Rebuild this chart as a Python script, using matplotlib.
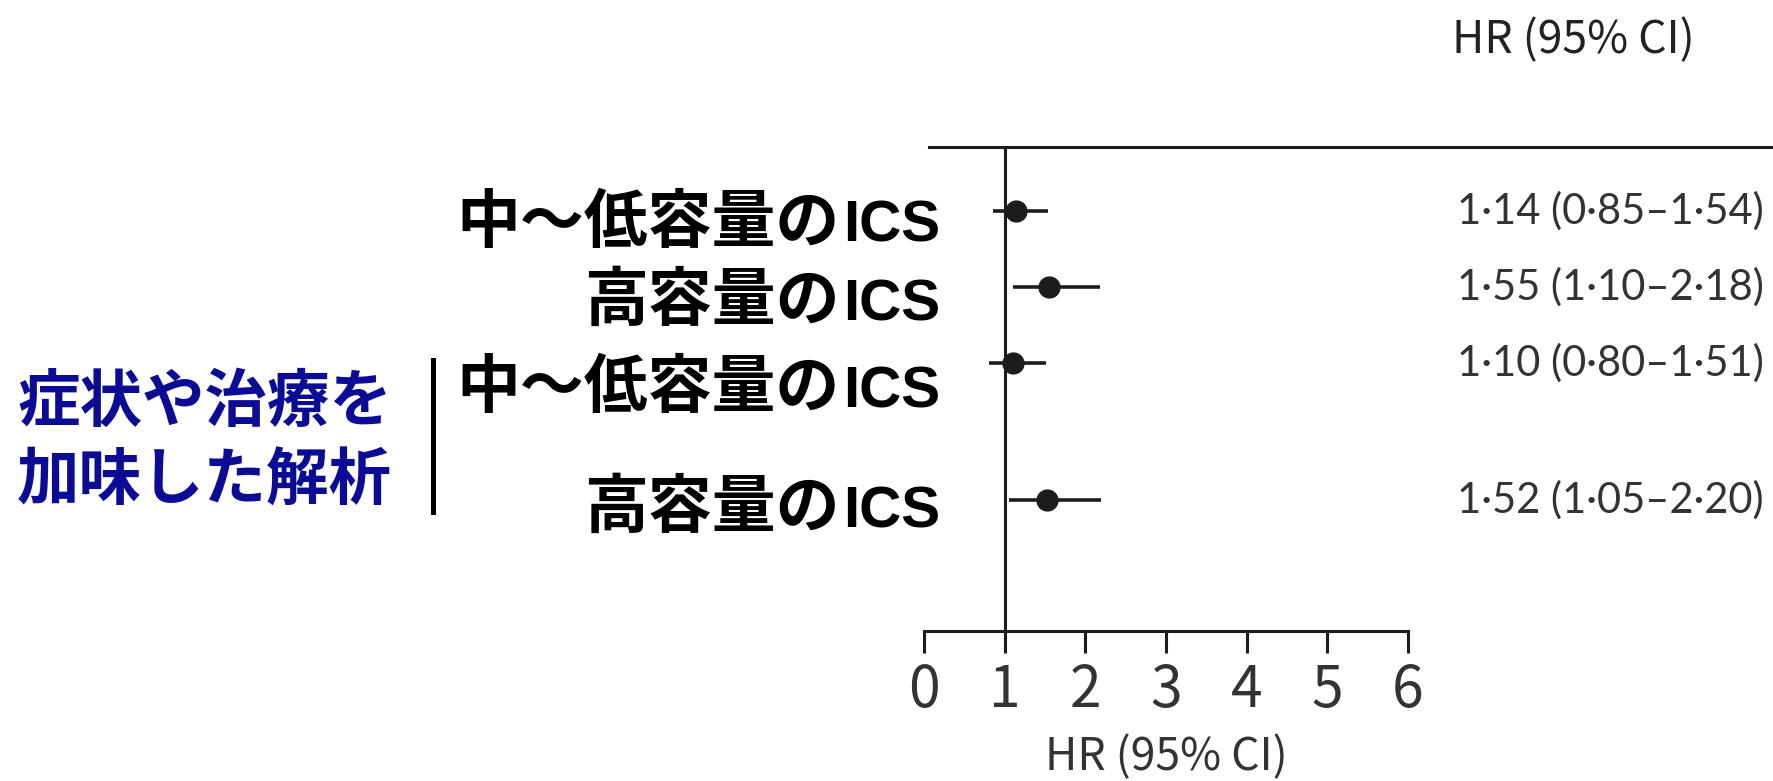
import matplotlib.pyplot as plt
from matplotlib.lines import Line2D
from matplotlib.transforms import blended_transform_factory

# hazard ratios with 95% CI, one row per ICS dose group
dose_labels = ["中～低容量の", "高容量の", "中～低容量の", "高容量の"]
drug_label = "ICS"
hr = [1.14, 1.55, 1.10, 1.52]
ci_low = [0.85, 1.10, 0.80, 1.05]
ci_high = [1.54, 2.18, 1.51, 2.20]
row_pos = [0, 1, 2, 3.8]
x_ticks = [0, 1, 2, 3, 4, 5, 6]
axis_title = "HR (95% CI)"
group_lines = ["症状や治療を", "加味した解析"]

W, H = 1773, 781
INK = "#1c1c1c"
GREY = "#333333"
NUM_FONT = ["Noto Sans CJK JP", "DejaVu Sans"]
CI_FONT = ["Lato", "Open Sans", "DejaVu Sans"]
JP_FONT = ["Noto Sans CJK JP", "DejaVu Sans"]
BLUE = "#0b0b96"


def fx(x):
    return x / W


def fy(y):
    return 1 - y / H


fig = plt.figure(figsize=(W / 100, H / 100), dpi=100)

ax = fig.add_axes([fx(924), fy(631), fx(1408) - fx(924), fy(147) - fy(631)])
ax.set_xlim(0, 6)
ax.set_ylim(5.52, -0.84)
for side in ("left", "top", "right"):
    ax.spines[side].set_visible(False)
ax.spines["bottom"].set_linewidth(2.2)
ax.spines["bottom"].set_color(INK)
ax.set_yticks([])
ax.set_xticks(x_ticks)
ax.set_xticklabels([str(t) for t in x_ticks], family=NUM_FONT, fontsize=41,
                   color=GREY)
ax.tick_params(axis="x", length=16, width=2.2, color=INK, pad=6)

# line of no effect
ax.axvline(1, color=INK, lw=2.2, zorder=1)

ax.hlines(row_pos, ci_low, ci_high, color=INK, lw=2.6, zorder=2)
ax.plot(hr, row_pos, "o", ms=15, color=INK, zorder=3)

ax.set_xlabel(axis_title, family=NUM_FONT, fontsize=32, color=GREY)
ax.xaxis.label.set_va("center")
ax.xaxis.set_label_coords(0.5, -126 / 484)

# HR text column on the right
tr = blended_transform_factory(fig.transFigure, ax.transData)
for y, v, lo, hi in zip(row_pos, hr, ci_low, ci_high):
    s = f"{v:.2f} ({lo:.2f}–{hi:.2f})".replace(".", "·")
    ax.text(fx(1764), y, s, transform=tr, ha="right", va="center",
            family=CI_FONT, fontsize=30, color=GREY)

fig.text(fx(1573), fy(40), axis_title, ha="center", va="center",
         family=NUM_FONT, fontsize=32, color="#222222")

# rule under the header
fig.add_artist(Line2D([fx(929), 1.0], [fy(147), fy(147)], lw=2.2, color=INK))

# row labels: Japanese dose text followed by ICS
renderer = fig.canvas.get_renderer()
label_baseline = [242, 320, 407, 527]
for name, yb in zip(dose_labels, label_baseline):
    t = fig.text(fx(940), fy(yb), drug_label, ha="right", va="baseline",
                 family="Liberation Sans", weight="bold", fontsize=42,
                 color="black")
    w = t.get_window_extent(renderer).width
    fig.text(fx(940 - w - 3), fy(yb), name, ha="right", va="baseline",
             family=JP_FONT, weight="bold", fontsize=46, color="black")

# adjusted-analysis group label and its bracket
for line, yc in zip(group_lines, [402, 481]):
    fig.text(fx(17), fy(yc), line, ha="left", va="center", family=JP_FONT,
             weight="bold", fontsize=45, color=BLUE)
fig.add_artist(Line2D([fx(433), fx(433)], [fy(360), fy(512)], lw=3.6,
                      color="black"))

fig.savefig("out.png", dpi=100, facecolor="white")
